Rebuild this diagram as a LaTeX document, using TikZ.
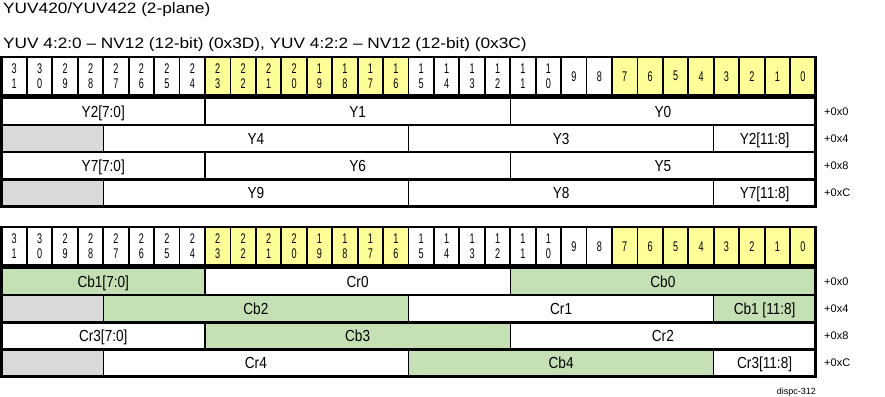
\documentclass[tikz,border=0pt]{standalone}
\usepackage{fontspec}
\setmainfont{Liberation Sans}
\newfontfamily\titlefont[FakeStretch=1.15]{Liberation Sans}
\newfontfamily\bitfont[FakeStretch=0.65]{Liberation Sans}
\newfontfamily\segfont[FakeStretch=0.85]{Liberation Sans}
\definecolor{bityellow}{HTML}{FFFF99}
\definecolor{cbgreen}{HTML}{C5E0B4}
\definecolor{padgray}{HTML}{D9D9D9}
\tikzset{
  titletext/.style={anchor=base west, inner sep=0pt, font=\titlefont\fontsize{15}{18}\selectfont},
  bitcell/.style={draw=black, line width=1.8pt, inner sep=0pt, outer sep=0pt, minimum width=25.4375pt, minimum height=38.5pt, anchor=north west, align=center, font=\bitfont\fontsize{14}{14.5}\selectfont},
  segbox/.style={draw=black, line width=1.2pt, inner sep=0pt, outer sep=0pt, minimum height=27.1pt, text height=11.5pt, text depth=0pt, anchor=north west, font=\segfont\fontsize{16}{18}\selectfont},
  frame/.style={draw=black, line width=2.6pt},
  rowsep/.style={draw=black, line width=2.4pt},
  offsettext/.style={anchor=west, inner sep=0pt, font=\fontsize{11}{13}\selectfont},
  notetext/.style={anchor=base east, inner sep=0pt, font=\fontsize{9}{11}\selectfont},
}
\newcommand\bitrow[2]{%
  \foreach \b in {31,...,0}{%
    \pgfmathsetmacro\myxl{1.5+(31-\b)*25.4375}%
    \pgfmathtruncatemacro\mytens{\b/10}%
    \pgfmathtruncatemacro\myones{mod(\b,10)}%
    \ifnum\b>23 \def\mycc{white}\else\ifnum\b>15 \def\mycc{bityellow}\else\ifnum\b>7 \def\mycc{white}\else\def\mycc{bityellow}\fi\fi\fi
    \ifnum\b>9
      \node[bitcell, fill=\mycc] (#1\b) at (\myxl,#2) {\mytens\\\myones};
    \else
      \node[bitcell, fill=\mycc] (#1\b) at (\myxl,#2) {\myones};
    \fi
  }
  \draw[frame] (#131.north west) rectangle (#10.south east);
}
\newcommand\seg[6]{%
  \pgfmathsetmacro\myxl{1.5+(31-#2)*25.4375}%
  \pgfmathsetmacro\mysegw{(#2-#3+1)*25.4375}%
  \node[segbox, fill=#5, minimum width=\mysegw pt] (#1) at (\myxl,#4) {#6};
}
\begin{document}
\begin{tikzpicture}[x=1pt,y=-1pt]
\useasboundingbox[fill=white] (0,0) rectangle (885,396);

\node[titletext] (t1) at (3,14) {YUV420/YUV422 (2-plane)};
\node[titletext] (t2) at (3,48.5) {YUV 4:2:0 – NV12 (12-bit) (0x3D), YUV 4:2:2 – NV12 (12-bit) (0x3C)};

% ---- Y plane ----
\bitrow{hA}{57}

\seg{y2lo}{31}{24}{98}{white}{Y2[7:0]}
\seg{y1}{23}{12}{98}{white}{Y1}
\seg{y0}{11}{0}{98}{white}{Y0}
\seg{padA}{31}{28}{125.1}{padgray}{}
\seg{y4}{27}{16}{125.1}{white}{Y4}
\seg{y3}{15}{4}{125.1}{white}{Y3}
\seg{y2hi}{3}{0}{125.1}{white}{Y2[11:8]}
\seg{y7lo}{31}{24}{152.2}{white}{Y7[7:0]}
\seg{y6}{23}{12}{152.2}{white}{Y6}
\seg{y5}{11}{0}{152.2}{white}{Y5}
\seg{padB}{31}{28}{179.3}{padgray}{}
\seg{y9}{27}{16}{179.3}{white}{Y9}
\seg{y8}{15}{4}{179.3}{white}{Y8}
\seg{y7hi}{3}{0}{179.3}{white}{Y7[11:8]}

\draw[rowsep] (y2lo.south west) -- (y0.south east);
\draw[rowsep] (padA.south west) -- (y2hi.south east);
\draw[rowsep] (y7lo.south west) -- (y5.south east);
\draw[frame] (y2lo.north west) rectangle (y7hi.south east);

\node[offsettext] (oA0) at (824,111.6) {+0x0};
\node[offsettext] (oA4) at (824,138.7) {+0x4};
\node[offsettext] (oA8) at (824,165.8) {+0x8};
\node[offsettext] (oAC) at (824,192.9) {+0xC};

% ---- CbCr plane ----
\bitrow{hB}{227}

\seg{cb1lo}{31}{24}{268}{cbgreen}{Cb1[7:0]}
\seg{cr0}{23}{12}{268}{white}{Cr0}
\seg{cb0}{11}{0}{268}{cbgreen}{Cb0}
\seg{padC}{31}{28}{295.2}{padgray}{}
\seg{cb2}{27}{16}{295.2}{cbgreen}{Cb2}
\seg{cr1}{15}{4}{295.2}{white}{Cr1}
\seg{cb1hi}{3}{0}{295.2}{cbgreen}{Cb1 [11:8]}
\seg{cr3lo}{31}{24}{322.4}{white}{Cr3[7:0]}
\seg{cb3}{23}{12}{322.4}{cbgreen}{Cb3}
\seg{cr2}{11}{0}{322.4}{white}{Cr2}
\seg{padD}{31}{28}{349.6}{padgray}{}
\seg{cr4}{27}{16}{349.6}{white}{Cr4}
\seg{cb4}{15}{4}{349.6}{cbgreen}{Cb4}
\seg{cr3hi}{3}{0}{349.6}{white}{Cr3[11:8]}

\draw[rowsep] (cb1lo.south west) -- (cb0.south east);
\draw[rowsep] (padC.south west) -- (cb1hi.south east);
\draw[rowsep] (cr3lo.south west) -- (cr2.south east);
\draw[frame] (cb1lo.north west) rectangle (cr3hi.south east);

\node[offsettext] (oB0) at (824,281.6) {+0x0};
\node[offsettext] (oB4) at (824,308.8) {+0x4};
\node[offsettext] (oB8) at (824,336.0) {+0x8};
\node[offsettext] (oBC) at (824,363.2) {+0xC};

\node[notetext] (note) at (816,394) {dispc-312};
\end{tikzpicture}
\end{document}
